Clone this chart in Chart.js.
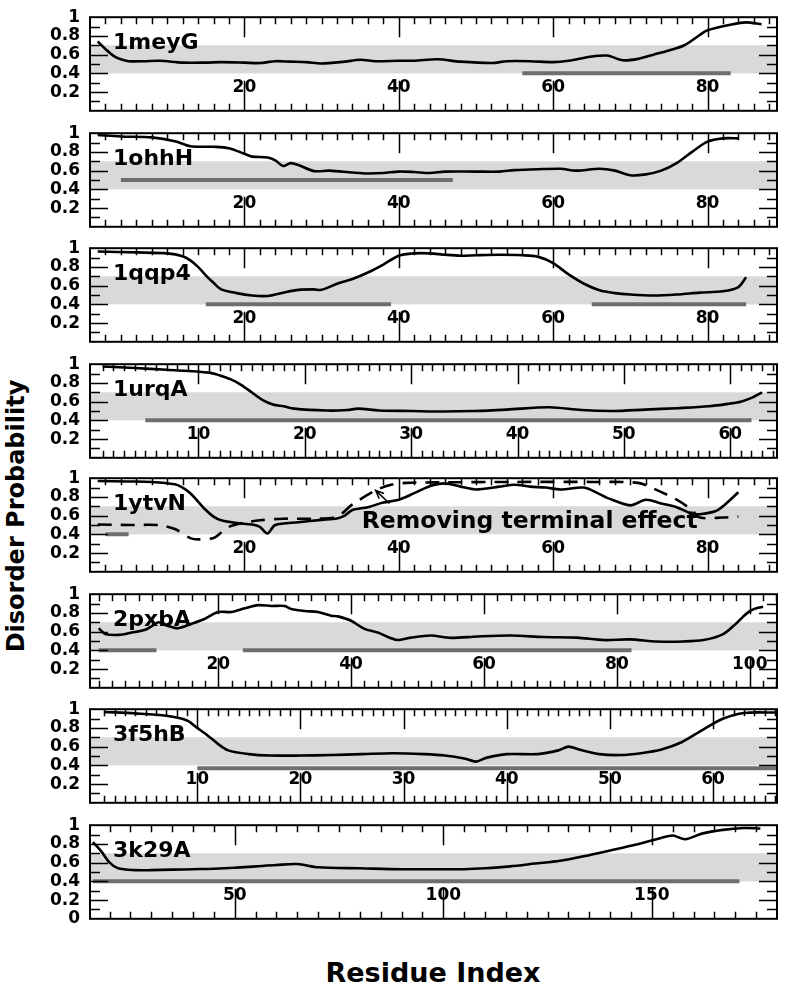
<!DOCTYPE html>
<html>
<head>
<meta charset="utf-8">
<script src="https://cdn.jsdelivr.net/npm/chart.js@4.4.1/dist/chart.umd.min.js"></script>
<style>
  body { margin: 0; background: #fff; width: 786px; height: 998px; position: relative; overflow: hidden; }
  .panel { position: absolute; left: 0; width: 786px; height: 134px; }
  .title { position: absolute; font-family: 'DejaVu Sans'; font-weight: bold; color: #000; white-space: nowrap; }
  #ytitle { left: 16px; top: 516px; font-size: 24px; transform: translate(-50%, -50%) rotate(-90deg); }
  #xtitle { left: 433px; top: 972px; font-size: 27px; transform: translate(-50%, -50%); }
</style>
</head>
<body>
<div class="title" id="ytitle">Disorder Probability</div>
<div class="title" id="xtitle">Residue Index</div>
<script>
// ---- data ----
var meyRes  = [1, 2, 3, 4, 5, 7, 9, 12, 15, 17, 20, 22, 24, 26, 28, 30, 33, 35, 37, 40, 42, 45, 48, 52, 54, 57, 60, 62, 65, 67, 69, 71, 73, 75, 77, 79, 80, 83, 85, 87];
var meyProb = [0.74, 0.66, 0.59, 0.55, 0.53, 0.53, 0.535, 0.515, 0.515, 0.52, 0.515, 0.51, 0.53, 0.525, 0.52, 0.505, 0.525, 0.545, 0.53, 0.535, 0.535, 0.55, 0.525, 0.51, 0.53, 0.53, 0.52, 0.535, 0.58, 0.59, 0.54, 0.555, 0.6, 0.645, 0.7, 0.81, 0.86, 0.92, 0.945, 0.925];
var meyBars = [[56, 83, 0.4]];

var ohhRes  = [1, 4, 8, 11, 13, 16, 18, 20, 21, 23, 24, 25, 26, 27, 29, 31, 34, 36, 38, 40, 42, 44, 46, 50, 53, 55, 58, 61, 63, 66, 68, 70, 72, 74, 76, 78, 80, 82, 84];
var ohhProb = [0.98, 0.965, 0.955, 0.915, 0.86, 0.855, 0.84, 0.78, 0.75, 0.74, 0.71, 0.65, 0.68, 0.66, 0.595, 0.6, 0.58, 0.57, 0.575, 0.59, 0.585, 0.575, 0.59, 0.59, 0.59, 0.605, 0.615, 0.62, 0.6, 0.62, 0.6, 0.55, 0.56, 0.6, 0.68, 0.8, 0.91, 0.945, 0.945];
var ohhBars = [[4, 47, 0.5]];

var qqpRes  = [1, 6, 10, 12, 13, 14, 15, 16, 17, 19, 21, 23, 25, 27, 29, 30, 32, 34, 36, 38, 40, 42, 44, 46, 48, 50, 53, 56, 58, 60, 62, 64, 66, 68, 70, 73, 76, 79, 82, 84, 85];
var qqpProb = [0.965, 0.955, 0.945, 0.915, 0.87, 0.8, 0.71, 0.63, 0.56, 0.52, 0.495, 0.49, 0.525, 0.555, 0.56, 0.555, 0.62, 0.67, 0.74, 0.825, 0.92, 0.945, 0.945, 0.93, 0.92, 0.925, 0.93, 0.925, 0.91, 0.84, 0.72, 0.62, 0.55, 0.52, 0.505, 0.495, 0.505, 0.525, 0.54, 0.585, 0.69];
var qqpBars = [[15, 39, 0.4], [65, 85, 0.4]];

var urqRes  = [1, 4, 7, 11, 12, 13, 14, 15, 16, 17, 18, 19, 22, 24, 25, 27, 30, 33, 36, 39, 43, 46, 49, 52, 55, 58, 60, 61, 62, 63];
var urqProb = [0.975, 0.96, 0.94, 0.91, 0.88, 0.84, 0.78, 0.7, 0.62, 0.57, 0.55, 0.525, 0.505, 0.51, 0.525, 0.505, 0.5, 0.495, 0.5, 0.515, 0.54, 0.51, 0.5, 0.515, 0.53, 0.55, 0.58, 0.6, 0.64, 0.7];
var urqBars = [[5, 62, 0.4]];

var ytvRes  = [1, 5, 8, 11, 12, 13, 14, 15, 16, 17, 19, 21, 22, 23, 24, 27, 30, 32, 33, 34, 36, 38, 40, 42, 44, 46, 48, 50, 53, 55, 57, 59, 61, 64, 66, 67, 70, 72, 74, 76, 78, 79, 81, 82, 84];
var ytvProb = [0.97, 0.965, 0.96, 0.935, 0.9, 0.84, 0.75, 0.66, 0.59, 0.55, 0.52, 0.505, 0.48, 0.41, 0.5, 0.53, 0.555, 0.57, 0.6, 0.66, 0.69, 0.74, 0.77, 0.84, 0.915, 0.945, 0.91, 0.88, 0.91, 0.93, 0.91, 0.9, 0.88, 0.9, 0.83, 0.79, 0.71, 0.77, 0.73, 0.69, 0.62, 0.615, 0.646, 0.7, 0.85];
// dashed curve: terminal effect removed
var ytvNoTermRes  = [1, 5, 9, 11, 13, 14, 16, 17, 18, 20, 22, 25, 29, 32, 34, 37, 39, 41, 45, 55, 65, 71, 73, 76, 78, 79, 82, 84];
var ytvNoTermProb = [0.505, 0.5, 0.498, 0.457, 0.36, 0.346, 0.36, 0.42, 0.48, 0.525, 0.55, 0.567, 0.567, 0.59, 0.72, 0.87, 0.93, 0.95, 0.955, 0.96, 0.96, 0.95, 0.89, 0.77, 0.66, 0.58, 0.58, 0.59];
var ytvBars = [[2, 5, 0.4]];

var pxbRes  = [2, 3, 5, 7, 9, 10, 11, 12, 13, 14, 16, 18, 20, 22, 24, 26, 28, 30, 31, 33, 35, 37, 38, 40, 42, 44, 46, 47, 49, 52, 55, 59, 64, 69, 74, 78, 82, 86, 90, 93, 96, 98, 99, 100, 101, 102];
var pxbProb = [0.637, 0.575, 0.565, 0.59, 0.62, 0.66, 0.7, 0.67, 0.65, 0.637, 0.684, 0.738, 0.81, 0.81, 0.85, 0.883, 0.874, 0.874, 0.842, 0.82, 0.81, 0.77, 0.763, 0.716, 0.63, 0.59, 0.53, 0.51, 0.536, 0.558, 0.533, 0.548, 0.558, 0.542, 0.536, 0.51, 0.517, 0.495, 0.495, 0.51, 0.574, 0.69, 0.76, 0.82, 0.85, 0.865];
var pxbBars = [[2, 10.7, 0.4], [23.7, 82.2, 0.4]];

var f5hRes  = [1, 4, 7, 9, 10, 11, 12, 13, 15, 17, 20, 23, 26, 29, 32, 34, 36, 37, 38, 40, 43, 45, 46, 47, 49, 51, 53, 55, 57, 59, 61, 63, 66];
var f5hProb = [0.97, 0.955, 0.93, 0.88, 0.8, 0.72, 0.63, 0.56, 0.52, 0.505, 0.505, 0.51, 0.52, 0.53, 0.52, 0.505, 0.47, 0.44, 0.48, 0.52, 0.52, 0.56, 0.6, 0.57, 0.52, 0.51, 0.53, 0.57, 0.65, 0.78, 0.9, 0.96, 0.965];
var f5hBars = [[10, 66.2, 0.37]];

var k29Res  = [16, 18, 20, 22, 26, 30, 35, 40, 45, 50, 55, 60, 65, 70, 80, 90, 100, 105, 110, 116, 122, 128, 134, 140, 146, 152, 155, 158, 162, 167, 172, 176];
var k29Prob = [0.82, 0.72, 0.6, 0.54, 0.52, 0.52, 0.525, 0.53, 0.535, 0.545, 0.56, 0.575, 0.585, 0.55, 0.54, 0.53, 0.53, 0.53, 0.54, 0.56, 0.59, 0.62, 0.67, 0.73, 0.79, 0.86, 0.89, 0.85, 0.91, 0.95, 0.97, 0.965];
var k29Bars = [[16, 171, 0.4]];

// tick labels on the residue axes
var ticks89  = [20, 40, 60, 80];
var ticksUrq = [10, 20, 30, 40, 50, 60];
var ticksPxb = [20, 40, 60, 80, 100];
var ticksF5h = [10, 20, 30, 40, 50, 60];
var ticksK29 = [50, 100, 150];

var bandLow = 0.4, bandHigh = 0.7;

var PAD = 14;
var panels = [
  { name: '1meyG', top: 11,  xmin: 0,    xmax: 89,    minor: 2, ticks: ticks89,  res: meyRes, prob: meyProb, bars: meyBars },
  { name: '1ohhH', top: 127, xmin: 0,    xmax: 89,    minor: 2, ticks: ticks89,  res: ohhRes, prob: ohhProb, bars: ohhBars },
  { name: '1qqp4', top: 242, xmin: 0,    xmax: 89,    minor: 2, ticks: ticks89,  res: qqpRes, prob: qqpProb, bars: qqpBars },
  { name: '1urqA', top: 358, xmin: -0.2, xmax: 64.4,  minor: 1, ticks: ticksUrq, res: urqRes, prob: urqProb, bars: urqBars },
  { name: '1ytvN', top: 472, xmin: 0,    xmax: 89,    minor: 2, ticks: ticks89,  res: ytvRes, prob: ytvProb, bars: ytvBars,
    dashRes: ytvNoTermRes, dashProb: ytvNoTermProb, note: 'Removing terminal effect' },
  { name: '2pxbA', top: 588, xmin: 0.7,  xmax: 104.1, minor: 2, ticks: ticksPxb, res: pxbRes, prob: pxbProb, bars: pxbBars },
  { name: '3f5hB', top: 703, xmin: -0.4, xmax: 66.2,  minor: 1, ticks: ticksF5h, res: f5hRes, prob: f5hProb, bars: f5hBars },
  { name: '3k29A', top: 819, xmin: 15.3, xmax: 180,   minor: 5, ticks: ticksK29, res: k29Res, prob: k29Prob, bars: k29Bars, zero: true }
];

function pts(xs, ys) {
  return xs.map(function (x, i) { return { x: x, y: ys[i] }; });
}

var FONT = "'DejaVu Sans'";

function makePanel(p) {
  var box = document.createElement('div');
  box.className = 'panel';
  box.style.top = (p.top - PAD) + 'px';
  var cv = document.createElement('canvas');
  cv.width = 786; cv.height = 106 + 2 * PAD;
  box.appendChild(cv);
  document.body.appendChild(box);

  var ds = [{ data: pts(p.res, p.prob), borderColor: '#000', borderWidth: 2.6, pointRadius: 0, tension: 0.3 }];
  if (p.dashRes) {
    ds.push({ data: pts(p.dashRes, p.dashProb), borderColor: '#000', borderWidth: 2.6, borderDash: [14, 9], pointRadius: 0, tension: 0.3 });
  }
  p.bars.forEach(function (b) {
    ds.push({ data: [{ x: b[0], y: b[2] }, { x: b[1], y: b[2] }], borderColor: '#6e6e6e', borderWidth: 4, pointRadius: 0, borderCapStyle: 'butt' });
  });

  var deco = {
    id: 'deco',
    beforeDatasetsDraw: function (chart) {
      var a = chart.chartArea, ys = chart.scales.y, ctx = chart.ctx;
      var t = ys.getPixelForValue(bandHigh), b = ys.getPixelForValue(bandLow);
      ctx.save();
      ctx.fillStyle = '#d9d9d9';
      ctx.fillRect(a.left, t, a.right - a.left, b - t);
      ctx.restore();
    },
    afterDatasetsDraw: function (chart) {
      var a = chart.chartArea, xs = chart.scales.x, ys = chart.scales.y, ctx = chart.ctx;
      ctx.save();
      ctx.strokeStyle = '#000';
      ctx.lineWidth = 1.5;
      ctx.beginPath();
      // residue ticks, top and bottom
      var major = p.ticks[1] - p.ticks[0];
      for (var k = Math.ceil(p.xmin / p.minor); k * p.minor < p.xmax; k++) {
        var v = k * p.minor;
        if (v <= p.xmin + 0.5) continue;
        var px = Math.round(xs.getPixelForValue(v)) + 0.5;
        var isMajor = Math.abs(v % major) < 1e-6;
        ctx.moveTo(px, a.top); ctx.lineTo(px, a.top + (isMajor ? 20 : 7));
        ctx.moveTo(px, a.bottom); ctx.lineTo(px, a.bottom - (isMajor ? 30 : 7));
      }
      // probability ticks, left and right
      for (var j = 1; j < 10; j++) {
        var py = Math.round(ys.getPixelForValue(j / 10)) + 0.5;
        var len = j % 2 === 0 ? 18 : 10;
        ctx.moveTo(a.left, py); ctx.lineTo(a.left + len, py);
        ctx.moveTo(a.right, py); ctx.lineTo(a.right - len, py);
      }
      ctx.stroke();
      ctx.lineWidth = 2;
      ctx.strokeRect(a.left, a.top, a.right - a.left, a.bottom - a.top);

      ctx.fillStyle = '#000';
      ctx.textAlign = 'center';
      ctx.textBaseline = 'middle';
      ctx.font = 'bold 17px ' + FONT;
      p.ticks.forEach(function (t) {
        ctx.fillText(String(t), xs.getPixelForValue(t), a.bottom - 23);
      });
      ctx.textAlign = 'left';
      ctx.font = 'bold 22px ' + FONT;
      ctx.fillText(p.name, a.left + 23, a.top + 26);

      if (p.note) {
        ctx.font = 'bold 23.5px ' + FONT;
        ctx.fillText(p.note, xs.getPixelForValue(35.2), ys.getPixelForValue(0.53));
        var tipX = xs.getPixelForValue(37), tipY = ys.getPixelForValue(0.87);
        var tailX = xs.getPixelForValue(38.8), tailY = ys.getPixelForValue(0.73);
        ctx.lineWidth = 1.5;
        ctx.beginPath();
        ctx.moveTo(tailX, tailY); ctx.lineTo(tipX, tipY);
        var ang = Math.atan2(tipY - tailY, tipX - tailX);
        ctx.moveTo(tipX - 9 * Math.cos(ang - 0.4), tipY - 9 * Math.sin(ang - 0.4));
        ctx.lineTo(tipX, tipY);
        ctx.lineTo(tipX - 9 * Math.cos(ang + 0.4), tipY - 9 * Math.sin(ang + 0.4));
        ctx.stroke();
      }
      ctx.restore();
    }
  };

  new Chart(cv, {
    type: 'line',
    data: { datasets: ds },
    options: {
      responsive: false,
      animation: false,
      events: [],
      layout: { padding: { top: PAD, bottom: PAD, left: 0, right: 9 } },
      plugins: { legend: { display: false }, tooltip: { enabled: false } },
      scales: {
        x: { type: 'linear', min: p.xmin, max: p.xmax, display: false },
        y: {
          min: 0, max: 1,
          afterFit: function (s) { s.width = 90; },
          grid: { display: false, drawTicks: false },
          border: { display: false },
          ticks: {
            stepSize: 0.2, autoSkip: false, padding: 10, color: '#000',
            font: { family: FONT, weight: 'bold', size: 17 },
            callback: function (v) {
              var r = Math.round(v * 10) / 10;
              if (r === 0 && !p.zero) return '';
              return String(r);
            }
          }
        }
      }
    },
    plugins: [deco]
  });
}

panels.forEach(makePanel);
</script>
</body>
</html>
